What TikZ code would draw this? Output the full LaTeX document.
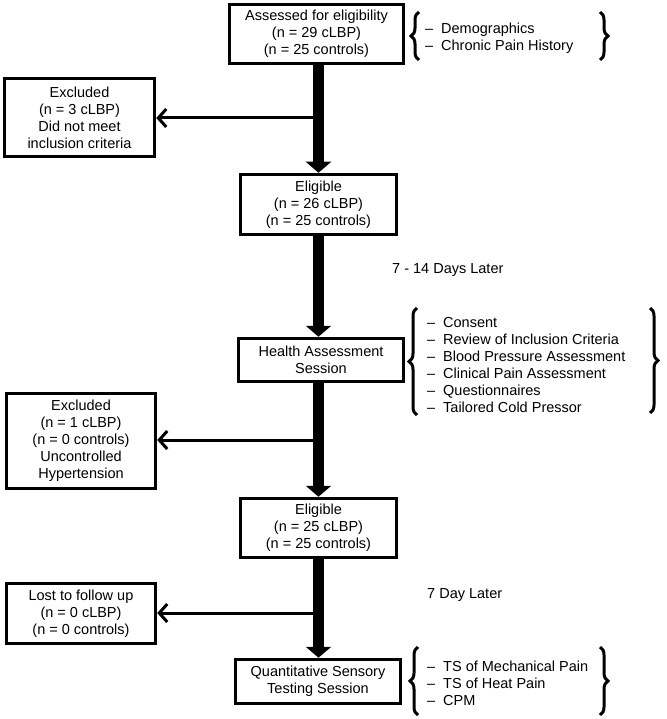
\documentclass[tikz,border=0pt]{standalone}
\usepackage{fontspec}
\setmainfont{Liberation Sans}
\usetikzlibrary{arrows.meta,decorations.pathreplacing}
\newcommand{\dsh}{\makebox[16pt][l]{–}}
\begin{document}
\begin{tikzpicture}[x=1pt,y=-1pt,
  every node/.style={font=\fontsize{14.5}{17}\selectfont},
  box/.style={draw,line width=3.5pt,align=center,inner sep=0pt},
  bigarrow/.style={line width=11pt,-{Triangle[width=25pt,length=11pt]}},
  thinarrow/.style={line width=3pt,-{Straight Barb[length=8pt,width=18pt]}},
  br/.style={decorate,decoration={brace,amplitude=8pt},line width=3pt},
  lst/.style={align=left,anchor=west,inner sep=0pt},
  lbl/.style={anchor=west,inner sep=0pt},
]
\useasboundingbox (0,0) rectangle (666,719);

% main column
\node[box,minimum width=174pt,minimum height=59pt] (b1) at (316.5,34) {Assessed for eligibility\\(n = 29 cLBP)\\(n = 25 controls)};
\node[box,minimum width=156pt,minimum height=60pt] (b2) at (318.5,204.5) {Eligible\\(n = 26 cLBP)\\(n = 25 controls)};
\node[box,minimum width=165pt,minimum height=43pt] (b3) at (321,360) {Health Assessment\\Session};
\node[box,minimum width=156pt,minimum height=59pt] (b4) at (318.5,528) {Eligible\\(n = 25 cLBP)\\(n = 25 controls)};
\node[box,minimum width=165pt,minimum height=44pt] (b5) at (318,681.5) {Quantitative Sensory\\Testing Session};

% side boxes
\node[box,minimum width=150pt,minimum height=78pt] (e1) at (79.5,117.5) {Excluded\\(n = 3 cLBP)\\Did not meet\\inclusion criteria};
\node[box,minimum width=149pt,minimum height=95pt] (e2) at (81,441) {Excluded\\(n = 1 cLBP)\\(n = 0 controls)\\Uncontrolled\\Hypertension};
\node[box,minimum width=149pt,minimum height=60pt] (e3) at (81,613.5) {Lost to follow up\\(n = 0 cLBP)\\(n = 0 controls)};

% thick arrows
\draw[bigarrow] (b1.south -| b2.north) -- (b2.north);
\draw[bigarrow] (b2.south) -- (b2.south |- b3.north);
\draw[bigarrow] (b2.south |- b3.south) -- (b4.north);
\draw[bigarrow] (b4.south) -- (b4.south |- b5.north);

% thin arrows
\coordinate (j1) at (318.5,118);
\coordinate (j2) at (318.5,440);
\coordinate (j3) at (318.5,613);
\draw[thinarrow] (j1) -- (j1 -| e1.east);
\draw[thinarrow] (j2) -- (j2 -| e2.east);
\draw[thinarrow] (j3) -- (j3 -| e3.east);

% labels
\node[lbl] (t1) at (392,270) {7 - 14 Days Later};
\node[lbl] (t2) at (427,595) {7 Day Later};

% lists with braces
\node[lst] (l1) at (425,38) {\dsh Demographics\\\dsh Chronic Pain History};
\draw[br] (419,60) -- (419,12);
\draw[br] (600,12) -- (600,60);

\node[lst] (l2) at (427,365.5) {\dsh Consent\\\dsh Review of Inclusion Criteria\\\dsh Blood Pressure Assessment\\\dsh Clinical Pain Assessment\\\dsh Questionnaires\\\dsh Tailored Cold Pressor};
\draw[br] (417,415) -- (417,308);
\draw[br] (650,308) -- (650,413);

\node[lst] (l3) at (427,683.5) {\dsh TS of Mechanical Pain\\\dsh TS of Heat Pain\\\dsh CPM};
\draw[br] (418,715) -- (418,647);
\draw[br] (600,647) -- (600,715);
\end{tikzpicture}
\end{document}
